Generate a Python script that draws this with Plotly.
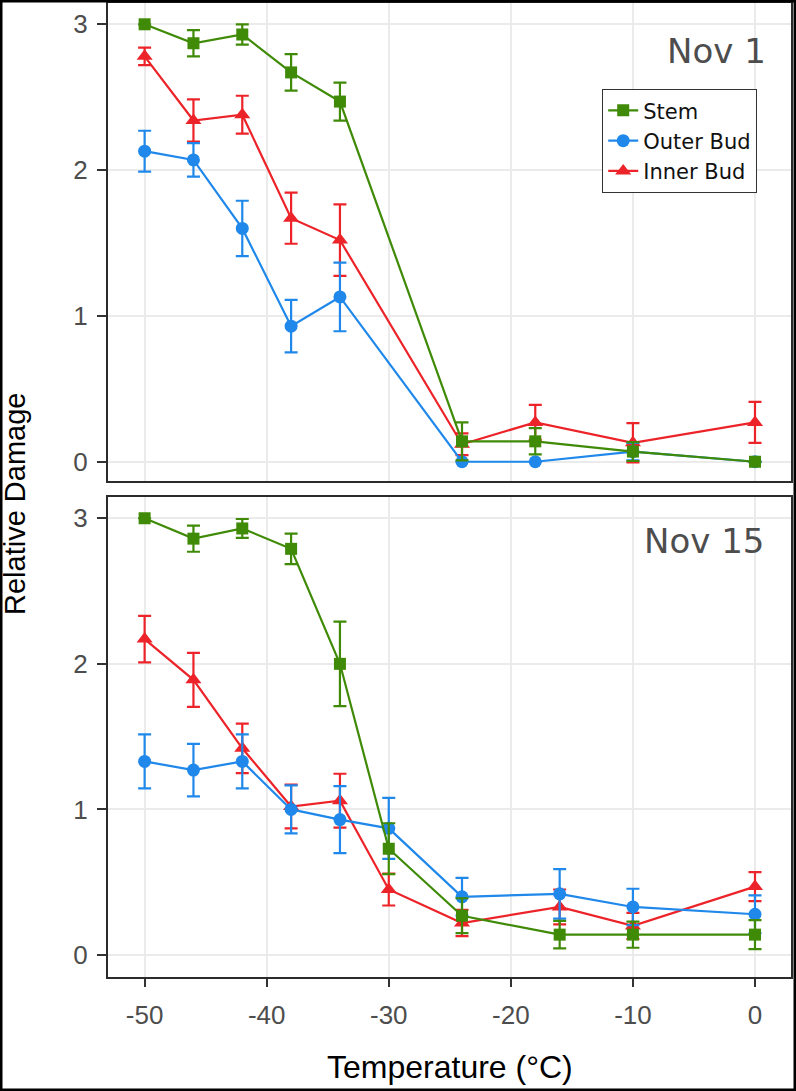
import plotly.graph_objects as go

# ---------------- data ----------------
temps_nov1 = [-50, -46, -42, -38, -34, -24, -18, -10, 0]
stem_nov1 = [3.0, 2.87, 2.93, 2.67, 2.47, 0.14, 0.14, 0.07, 0.0]
stem_nov1_err = [0, 0.09, 0.07, 0.125, 0.13, 0.13, 0.09, 0.065, 0]
outer_nov1 = [2.13, 2.07, 1.60, 0.93, 1.13, 0.0, 0.0, 0.07, 0.0]
outer_nov1_err = [0.14, 0.115, 0.19, 0.18, 0.235, 0, 0, 0.06, 0]
inner_nov1 = [2.78, 2.34, 2.38, 1.67, 1.52, 0.12, 0.27, 0.13, 0.27]
inner_nov1_err = [0.06, 0.145, 0.13, 0.175, 0.245, 0.075, 0.12, 0.135, 0.14]

temps_nov15 = [-50, -46, -42, -38, -34, -30, -24, -16, -10, 0]
stem_nov15 = [3.0, 2.86, 2.93, 2.79, 2.0, 0.73, 0.27, 0.14, 0.14, 0.14]
stem_nov15_err = [0, 0.09, 0.065, 0.105, 0.29, 0.175, 0.12, 0.095, 0.09, 0.1]
outer_nov15 = [1.33, 1.27, 1.33, 1.0, 0.93, 0.87, 0.40, 0.42, 0.33, 0.28]
outer_nov15_err = [0.185, 0.18, 0.185, 0.165, 0.23, 0.21, 0.13, 0.17, 0.125, 0.13]
inner_nov15 = [2.17, 1.89, 1.42, 1.02, 1.06, 0.45, 0.22, 0.33, 0.20, 0.47]
inner_nov15_err = [0.16, 0.185, 0.17, 0.15, 0.185, 0.11, 0.09, 0.12, 0.09, 0.1]

x_ticks = [-50, -40, -30, -20, -10, 0]
x_tick_labels = ["-50", "-40", "-30", "-20", "-10", "0"]
y_ticks = [0, 1, 2, 3]
y_tick_labels = ["0", "1", "2", "3"]
panel_labels = ["Nov 1", "Nov 15"]
series_names = ["Stem", "Outer Bud", "Inner Bud"]

# ---------------- style ----------------
W, H = 796, 1091
GREEN, BLUE, RED = "#3f8a06", "#1f88ea", "#ec2328"
SYMBOLS = {"Stem": ("square", 12), "Outer Bud": ("circle", 13), "Inner Bud": ("triangle-up", 14)}
COLORS = {"Stem": GREEN, "Outer Bud": BLUE, "Inner Bud": RED}
TICK_FONT = dict(family="Liberation Sans, Arial", size=26, color="#4d4d4d")

def px_x(p):
    return p / W

def px_y(p):
    return 1 - p / H

fig = go.Figure()

panels = [
    (temps_nov1, {"Stem": (stem_nov1, stem_nov1_err),
                  "Outer Bud": (outer_nov1, outer_nov1_err),
                  "Inner Bud": (inner_nov1, inner_nov1_err)}, "x", "y"),
    (temps_nov15, {"Stem": (stem_nov15, stem_nov15_err),
                   "Outer Bud": (outer_nov15, outer_nov15_err),
                   "Inner Bud": (inner_nov15, inner_nov15_err)}, "x2", "y2"),
]

for i, (temps, series, xa, ya) in enumerate(panels):
    for name in ["Inner Bud", "Outer Bud", "Stem"]:
        vals, errs = series[name]
        sym, sz = SYMBOLS[name]
        fig.add_trace(go.Scatter(
            x=temps, y=vals, name=name, mode="lines+markers",
            xaxis=xa, yaxis=ya, showlegend=(i == 0), legendgroup=name,
            line=dict(color=COLORS[name], width=2.2),
            marker=dict(symbol=sym, size=sz, color=COLORS[name]),
            error_y=dict(type="data", array=errs, visible=True,
                         color=COLORS[name], thickness=2.2, width=6.5),
        ))

common_x = dict(range=[-53.0, 2.95], tickvals=x_ticks, ticktext=x_tick_labels,
                showgrid=True, gridcolor="#ebebeb", gridwidth=1.5, zeroline=False,
                showline=True, mirror=True, linecolor="#2b2b2b", linewidth=2)
common_y = dict(tickvals=y_ticks, ticktext=y_tick_labels, showgrid=True,
                gridcolor="#ebebeb", gridwidth=1.5, zeroline=False, showline=True,
                mirror=True, linecolor="#2b2b2b", linewidth=2, ticks="outside",
                ticklen=9, tickwidth=2, tickcolor="#333333", tickfont=TICK_FONT,
                ticklabelstandoff=4)

xd = [px_x(108), px_x(791)]
fig.update_layout(
    width=W, height=H,
    margin=dict(l=0, r=0, t=0, b=0),
    paper_bgcolor="white", plot_bgcolor="white",
    xaxis=dict(**common_x, domain=xd, anchor="y", showticklabels=False, ticks=""),
    yaxis=dict(**common_y, domain=[px_y(481), px_y(3)], range=[-0.132, 3.146], anchor="x"),
    xaxis2=dict(**common_x, domain=xd, anchor="y2", ticks="outside", ticklen=8,
                tickwidth=2, tickcolor="#333333", tickfont=TICK_FONT,
                ticklabelstandoff=6),
    yaxis2=dict(**common_y, domain=[px_y(977), px_y(497)], range=[-0.151, 3.146], anchor="x2"),
    legend=dict(x=px_x(602), y=px_y(89), xanchor="left", yanchor="top",
                traceorder="reversed", bgcolor="white", bordercolor="#333333",
                borderwidth=1.2,
                font=dict(family="DejaVu Sans, Verdana", size=21, color="#111111"),
                itemwidth=30, tracegroupgap=0),
    showlegend=True,
)

# Panel labels
fig.add_annotation(text=panel_labels[0], xref="paper", yref="paper",
                   x=px_x(768), y=px_y(51), xanchor="right", yanchor="middle",
                   showarrow=False,
                   font=dict(family="DejaVu Sans, Verdana", size=34, color="#4d4d4d"))
fig.add_annotation(text=panel_labels[1], xref="paper", yref="paper",
                   x=px_x(766), y=px_y(541), xanchor="right", yanchor="middle",
                   showarrow=False,
                   font=dict(family="DejaVu Sans, Verdana", size=34, color="#4d4d4d"))

# Axis titles
fig.add_annotation(text="Relative Damage", xref="paper", yref="paper",
                   x=px_x(15), y=px_y(504), textangle=-90, showarrow=False,
                   xanchor="center", yanchor="middle",
                   font=dict(family="Liberation Sans, Arial", size=29, color="black"))
fig.add_annotation(text="Temperature (°C)", xref="paper", yref="paper",
                   x=px_x(450), y=px_y(1067), showarrow=False,
                   xanchor="center", yanchor="middle",
                   font=dict(family="Liberation Sans, Arial", size=32, color="black"))

# Outer frame
fig.add_shape(type="rect", xref="paper", yref="paper", x0=0, y0=0, x1=1, y1=1,
              line=dict(color="black", width=5), fillcolor="rgba(0,0,0,0)",
              layer="above")

fig.write_html(
    "out.html",
    config={"displayModeBar": False},
    post_script="document.body.style.margin='0';document.body.style.padding='0';"
                "document.documentElement.style.overflow='hidden';",
)
